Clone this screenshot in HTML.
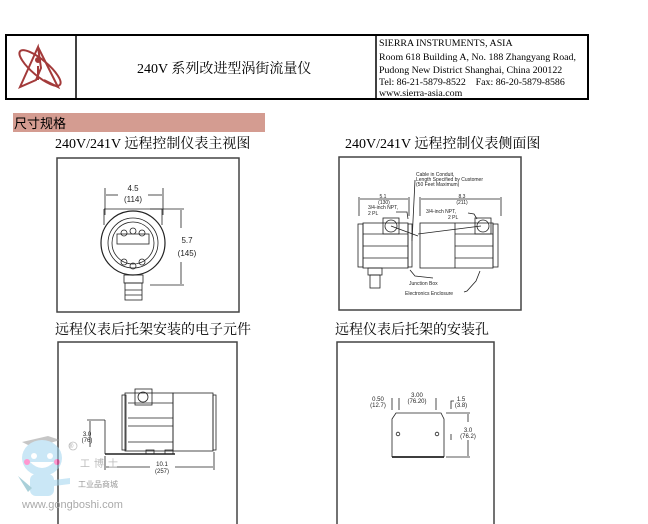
<!DOCTYPE html>
<html><head><meta charset="utf-8"><style>
html,body{margin:0;padding:0;background:#fff;width:648px;height:524px;overflow:hidden}
svg{display:block}
.s{font-family:"Liberation Serif","Noto Serif CJK SC",serif}
.c{font-family:"Liberation Serif","Noto Sans CJK SC",serif}
.a{font-family:"Liberation Sans",sans-serif}
</style></head><body>
<svg width="648" height="524" viewBox="0 0 648 524" xmlns="http://www.w3.org/2000/svg">
<!-- header -->
<rect x="6" y="35" width="582" height="64" fill="none" stroke="#000" stroke-width="2"/>
<line x1="76" y1="35" x2="76" y2="99" stroke="#000" stroke-width="1.5"/>
<line x1="376" y1="35" x2="376" y2="99" stroke="#000" stroke-width="1.5"/>
<g stroke="#a33a3a" fill="none" stroke-width="2">
<path d="M38 47 L20 87 L36 80 L41 68 Z" fill="none"/>
<path d="M38 47 L58 87 L44 80"/>
<ellipse cx="40" cy="68" rx="26" ry="8" transform="rotate(40 40 68)"/>
<circle cx="38" cy="60" r="2" fill="#a33a3a"/>
<path d="M38 66 L38 80"/>
</g>
<text x="137" y="73" font-size="14" class="s">240V 系列改进型涡街流量仪</text>
<g class="s" font-size="9.9">
<text x="379" y="46">SIERRA INSTRUMENTS, ASIA</text>
<text x="379" y="60">Room 618 Building A, No. 188 Zhangyang Road,</text>
<text x="379" y="73">Pudong New District Shanghai, China 200122</text>
<text x="379" y="85">Tel: 86-21-5879-8522&#160;&#160;&#160; Fax: 86-20-5879-8586</text>
<text x="379" y="96">www.sierra-asia.com</text>
</g>
<rect x="13" y="113" width="252" height="19" fill="#d49c91"/>
<text x="14" y="128" font-size="13" class="c">尺寸规格</text>
<text x="55" y="148" font-size="14" class="s">240V/241V 远程控制仪表主视图</text>
<text x="345" y="148" font-size="14" class="s">240V/241V 远程控制仪表侧面图</text>
<text x="55" y="334" font-size="14" class="s">远程仪表后托架安装的电子元件</text>
<text x="335" y="334" font-size="14" class="s">远程仪表后托架的安装孔</text>

<g fill="none" stroke="#444" stroke-width="1.5">
<rect x="57" y="158" width="182" height="154"/>
<rect x="339" y="157" width="182" height="153"/>
<rect x="58" y="342" width="179" height="184"/>
<rect x="337" y="342" width="157" height="184"/>
</g>

<!-- diagram 1 -->
<g stroke="#222" fill="none" stroke-width="0.8">
<line x1="105" y1="188" x2="105" y2="215"/><line x1="163" y1="188" x2="163" y2="215"/>
<line x1="106" y1="195" x2="118" y2="195"/><line x1="148" y1="195" x2="162" y2="195"/>
<line x1="150" y1="209" x2="184" y2="209"/><line x1="150" y1="285" x2="184" y2="285"/>
<line x1="181" y1="210" x2="181" y2="228"/><line x1="181" y1="262" x2="181" y2="284"/>
<path d="M104 209 L104 225 M162 209 L162 225 M104 209 L162 209"/>
<circle cx="133" cy="243" r="32" stroke-width="1.2"/>
<circle cx="133" cy="243" r="25"/>
<circle cx="133" cy="243" r="21"/>
<rect x="117" y="234" width="32" height="10"/>
<circle cx="124" cy="233" r="3"/><circle cx="133" cy="231" r="3"/><circle cx="142" cy="233" r="3"/>
<circle cx="124" cy="262" r="3"/><circle cx="133" cy="266" r="3"/><circle cx="142" cy="262" r="3"/>
<rect x="124" y="275" width="19" height="8"/>
<rect x="125" y="283" width="17" height="17"/>
<line x1="125" y1="290" x2="142" y2="290"/><line x1="125" y1="295" x2="142" y2="295"/>
</g>
<g class="a" font-size="8" fill="#222" text-anchor="middle">
<text x="133" y="191">4.5</text><text x="133" y="202">(114)</text>
<text x="187" y="243">5.7</text><text x="187" y="256">(145)</text>
</g>

<!-- diagram 2 -->
<g stroke="#222" fill="none" stroke-width="0.8">
<line x1="359" y1="197" x2="359" y2="216"/><line x1="409" y1="197" x2="409" y2="216"/>
<line x1="360" y1="199" x2="408" y2="199"/>
<line x1="420" y1="197" x2="420" y2="216"/><line x1="501" y1="197" x2="501" y2="216"/>
<line x1="421" y1="199" x2="500" y2="199"/>
<rect x="363" y="223" width="45" height="45"/>
<line x1="363" y1="234" x2="408" y2="234"/><line x1="363" y1="246" x2="408" y2="246"/><line x1="363" y1="258" x2="408" y2="258"/>
<rect x="358" y="224" width="5" height="43"/><rect x="408" y="224" width="4" height="43"/>
<rect x="383" y="218" width="16" height="16"/><circle cx="391" cy="226" r="6"/>
<rect x="420" y="223" width="73" height="45"/>
<line x1="455" y1="234" x2="493" y2="234"/><line x1="455" y1="246" x2="493" y2="246"/><line x1="455" y1="258" x2="493" y2="258"/>
<line x1="455" y1="223" x2="455" y2="268"/>
<rect x="493" y="224" width="5" height="43"/>
<rect x="475" y="218" width="16" height="16"/><circle cx="483" cy="226" r="6"/>
<path d="M391 226 L418 236 M418 234 L481 226"/>
<rect x="368" y="268" width="14" height="7"/><rect x="370" y="275" width="10" height="13"/>
<path d="M410 270 L415 276 L433 278 M480 271 L476 281 L467 291 L464 292 M415 180 L412 241 M396 212 L407 212 L408 219 M468 213 L474 214 L477 219"/>
</g>
<g class="a" font-size="5" fill="#222">
<text x="416" y="176">Cable in Conduit,</text>
<text x="416" y="181">Length Specified by Customer</text>
<text x="416" y="186">(50 Feet Maximum)</text>
<text x="383" y="198" text-anchor="middle">5.1</text><text x="384" y="204" text-anchor="middle">(130)</text>
<text x="462" y="198" text-anchor="middle">8.3</text><text x="462" y="204" text-anchor="middle">(211)</text>
<text x="368" y="209">3/4-inch NPT,</text><text x="368" y="215">2 PL</text>
<text x="426" y="213">3/4-inch NPT,</text><text x="448" y="219">2 PL</text>
<text x="409" y="285">Junction Box</text>
<text x="405" y="295">Electronics Enclosure</text>
</g>

<!-- diagram 3 -->
<g stroke="#222" fill="none" stroke-width="0.8">
<rect x="125" y="393" width="48" height="58"/>
<rect x="173" y="393" width="40" height="58"/>
<rect x="122" y="395" width="4" height="55"/><rect x="213" y="395" width="3" height="55"/>
<rect x="135" y="389" width="17" height="16"/><circle cx="143" cy="397" r="5"/>
<line x1="128" y1="403" x2="173" y2="403"/><line x1="128" y1="418" x2="173" y2="418"/><line x1="128" y1="426" x2="173" y2="426"/><line x1="128" y1="442" x2="173" y2="442"/>
<line x1="105" y1="454" x2="175" y2="454" stroke-width="1.5"/>
<line x1="105" y1="420" x2="105" y2="454"/><line x1="87" y1="420" x2="105" y2="420"/>
<line x1="90" y1="421" x2="90" y2="447"/>
<line x1="105" y1="456" x2="105" y2="470"/><line x1="214" y1="452" x2="214" y2="470"/>
<line x1="106" y1="467" x2="150" y2="467"/><line x1="175" y1="467" x2="213" y2="467"/>
<rect x="146" y="450" width="8" height="4"/><rect x="165" y="450" width="8" height="4"/>
</g>
<g class="a" font-size="6" fill="#222" text-anchor="middle">
<text x="87" y="436">3.0</text><text x="87" y="442">(76)</text>
<text x="162" y="466">10.1</text><text x="162" y="473">(257)</text>
</g>
<!-- watermark -->
<g opacity="0.55">
<path d="M22 442 L48 436 L60 440 L34 448 Z" fill="#999"/>
<ellipse cx="42" cy="458" rx="20" ry="18" fill="#9fd4ef"/>
<path d="M30 462 Q42 474 54 462 Z" fill="#fff"/>
<circle cx="34" cy="456" r="3" fill="#fff"/><circle cx="50" cy="456" r="3" fill="#fff"/>
<circle cx="27" cy="462" r="3" fill="#f4a"/><circle cx="57" cy="462" r="3" fill="#f4a"/>
<rect x="30" y="474" width="24" height="22" rx="6" fill="#9fd4ef"/>
<path d="M18 476 L28 492 L32 488 Z" fill="#6ab"/>
<path d="M54 480 L70 478 L70 484 L54 486 Z" fill="#9fd4ef"/>
<circle cx="73" cy="446" r="4" fill="none" stroke="#888" stroke-width="0.8"/>
</g>
<text x="69" y="448" class="a" font-size="6" fill="#aaa">®</text>
<text x="80" y="467" class="c" font-size="10" fill="#bbb" letter-spacing="4">工博士</text>
<text x="78" y="487" class="a" font-size="8" fill="#999">工业品商城</text>
<text x="22" y="508" class="a" font-size="11" fill="#aaa">www.gongboshi.com</text>

<!-- diagram 4 -->
<g stroke="#222" fill="none" stroke-width="0.8">
<path d="M392 457 L392 419 L396 413 L441 413 L444 419 L444 457"/>
<line x1="392" y1="457" x2="444" y2="457" stroke-width="1.8"/>
<circle cx="398" cy="434" r="1.8"/><circle cx="437" cy="434" r="1.8"/>
<line x1="392" y1="398" x2="392" y2="410"/><line x1="399" y1="398" x2="399" y2="410"/><line x1="436" y1="398" x2="436" y2="410"/>
<line x1="446" y1="413" x2="470" y2="413"/><line x1="446" y1="457" x2="470" y2="457"/>
<line x1="468" y1="414" x2="468" y2="422"/><line x1="468" y1="440" x2="468" y2="456"/>
<path d="M451 409 L451 401 L454 401 M451 434 L451 440"/>
</g>
<g class="a" font-size="6" fill="#222" text-anchor="middle">
<text x="378" y="401">0.50</text><text x="378" y="407">(12.7)</text>
<text x="417" y="397">3.00</text><text x="417" y="403">(76.20)</text>
<text x="461" y="401">1.5</text><text x="461" y="407">(3.8)</text>
<text x="468" y="432">3.0</text><text x="468" y="438">(76.2)</text>
</g>
</svg>
</body></html>
